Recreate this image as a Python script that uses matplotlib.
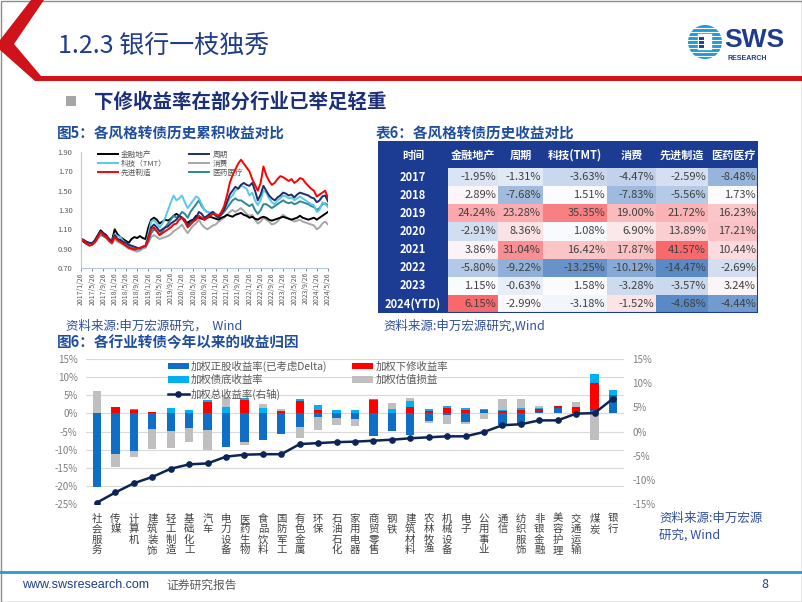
import numpy as np
import matplotlib.pyplot as plt
from matplotlib.patches import Rectangle, Polygon, Circle

plt.rcParams['font.family'] = ['Noto Sans CJK SC', 'DejaVu Sans']
plt.rcParams['axes.unicode_minus'] = False

# ---------------- data: 图5 cumulative returns (monthly, 2017/1 .. 2024/5)
date_labels = ['2017/1/26', '2017/5/26', '2017/9/26', '2018/1/26', '2018/5/26', '2018/9/26',
               '2019/1/26', '2019/5/26', '2019/9/26', '2020/1/26', '2020/5/26', '2020/9/26',
               '2021/1/26', '2021/5/26', '2021/9/26', '2022/1/26', '2022/5/26', '2022/9/26',
               '2023/1/26', '2023/5/26', '2023/9/26', '2024/1/26', '2024/5/26']

fin_re = [1.00, 0.97, 0.95, 0.96, 0.95, 0.99, 1.04, 1.09, 1.06, 1.04, 1.00, 0.98,
          1.10, 1.05, 1.02, 1.00, 0.98, 0.96, 1.00, 1.02, 1.01, 1.03, 1.01, 1.00,
          1.12, 1.20, 1.22, 1.20, 1.16, 1.18, 1.20, 1.19, 1.21, 1.24, 1.26, 1.24,
          1.22, 1.18, 1.17, 1.19, 1.20, 1.24, 1.22, 1.21, 1.20, 1.22, 1.23, 1.22,
          1.21, 1.20, 1.22, 1.23, 1.25, 1.24, 1.23, 1.25, 1.26, 1.27, 1.25, 1.24,
          1.22, 1.23, 1.21, 1.20, 1.22, 1.23, 1.22, 1.20, 1.19, 1.20, 1.21, 1.22,
          1.23, 1.22, 1.21, 1.20, 1.21, 1.22, 1.24, 1.22, 1.21, 1.20, 1.21, 1.22,
          1.20, 1.22, 1.24, 1.26, 1.28]
cycle = [1.00, 0.99, 0.97, 0.96, 0.96, 0.98, 1.03, 1.08, 1.06, 1.03, 1.00, 0.97,
         1.04, 1.00, 0.99, 0.97, 0.96, 0.94, 0.93, 0.92, 0.91, 0.90, 0.92, 0.93,
         1.02, 1.12, 1.15, 1.12, 1.08, 1.10, 1.12, 1.13, 1.16, 1.18, 1.20, 1.24,
         1.22, 1.20, 1.14, 1.18, 1.19, 1.22, 1.28, 1.26, 1.22, 1.24, 1.26, 1.28,
         1.24, 1.22, 1.26, 1.30, 1.38, 1.46, 1.50, 1.54, 1.52, 1.56, 1.58, 1.56,
         1.55, 1.58, 1.50, 1.40, 1.46, 1.55, 1.50, 1.45, 1.42, 1.40, 1.43, 1.45,
         1.48, 1.47, 1.45, 1.46, 1.43, 1.46, 1.48, 1.47, 1.46, 1.45, 1.43, 1.42,
         1.38, 1.40, 1.44, 1.45, 1.39]
tmt = [1.00, 0.99, 0.97, 0.96, 0.95, 0.97, 1.02, 1.06, 1.05, 1.03, 1.00, 0.97,
       1.05, 1.03, 1.02, 0.98, 0.96, 0.94, 0.93, 0.92, 0.90, 0.89, 0.91, 0.93,
       1.05, 1.18, 1.20, 1.16, 1.12, 1.16, 1.22, 1.30, 1.38, 1.45, 1.40, 1.42,
       1.45, 1.38, 1.32, 1.36, 1.40, 1.44, 1.42, 1.36, 1.30, 1.28, 1.26, 1.27,
       1.25, 1.24, 1.26, 1.30, 1.36, 1.42, 1.45, 1.50, 1.52, 1.55, 1.54, 1.52,
       1.45, 1.48, 1.40, 1.35, 1.40, 1.50, 1.48, 1.42, 1.38, 1.36, 1.40, 1.42,
       1.45, 1.44, 1.42, 1.43, 1.40, 1.42, 1.44, 1.42, 1.40, 1.38, 1.36, 1.35,
       1.28, 1.30, 1.38, 1.36, 1.33]
consume = [1.00, 0.98, 0.96, 0.95, 0.94, 0.96, 1.00, 1.04, 1.03, 1.01, 0.98, 0.95,
           1.00, 0.97, 0.96, 0.94, 0.92, 0.90, 0.89, 0.88, 0.87, 0.88, 0.90, 0.91,
           0.96, 1.02, 1.04, 1.02, 1.00, 1.01, 1.02, 1.03, 1.05, 1.08, 1.10, 1.12,
           1.15, 1.10, 1.06, 1.10, 1.14, 1.16, 1.20, 1.15, 1.12, 1.10, 1.12, 1.14,
           1.15, 1.18, 1.20, 1.22, 1.25, 1.28, 1.30, 1.28, 1.30, 1.32, 1.29, 1.26,
           1.24, 1.25, 1.20, 1.16, 1.18, 1.22, 1.20, 1.18, 1.15, 1.16, 1.18, 1.22,
           1.25, 1.23, 1.21, 1.20, 1.18, 1.19, 1.20, 1.18, 1.17, 1.16, 1.15, 1.14,
           1.10, 1.12, 1.16, 1.18, 1.15]
manuf = [1.00, 0.98, 0.95, 0.93, 0.94, 0.97, 1.02, 1.07, 1.04, 1.02, 0.98, 0.96,
         1.02, 0.99, 0.97, 0.95, 0.93, 0.91, 0.90, 0.89, 0.90, 0.91, 0.92, 0.93,
         1.00, 1.10, 1.12, 1.08, 1.04, 1.06, 1.08, 1.10, 1.12, 1.15, 1.16, 1.20,
         1.22, 1.18, 1.12, 1.15, 1.18, 1.20, 1.24, 1.22, 1.20, 1.22, 1.24, 1.26,
         1.25, 1.24, 1.28, 1.34, 1.45, 1.58, 1.66, 1.72, 1.78, 1.82, 1.78, 1.74,
         1.70, 1.62, 1.56, 1.50, 1.58, 1.75, 1.66, 1.60, 1.56, 1.58, 1.62, 1.65,
         1.64, 1.62, 1.60, 1.62, 1.58, 1.60, 1.63, 1.62, 1.58, 1.55, 1.52, 1.50,
         1.44, 1.46, 1.48, 1.50, 1.42]
medic = [1.00, 0.98, 0.96, 0.95, 0.95, 0.97, 1.01, 1.05, 1.03, 1.01, 0.99, 0.96,
         1.03, 1.00, 0.98, 0.96, 0.94, 0.92, 0.91, 0.90, 0.89, 0.90, 0.91, 0.92,
         0.98, 1.06, 1.10, 1.08, 1.05, 1.08, 1.12, 1.16, 1.20, 1.24, 1.22, 1.24,
         1.28, 1.26, 1.22, 1.28, 1.32, 1.36, 1.40, 1.34, 1.30, 1.28, 1.27, 1.28,
         1.26, 1.24, 1.25, 1.28, 1.32, 1.36, 1.40, 1.42, 1.40, 1.40, 1.38, 1.36,
         1.34, 1.36, 1.30, 1.26, 1.30, 1.36, 1.36, 1.34, 1.32, 1.34, 1.36, 1.38,
         1.40, 1.38, 1.37, 1.38, 1.36, 1.37, 1.39, 1.38, 1.37, 1.36, 1.34, 1.33,
         1.30, 1.32, 1.36, 1.37, 1.35]

# ---------------- data: 表6
table_head = ['时间', '金融地产', '周期', '科技(TMT)', '消费', '先进制造', '医药医疗']
years = ['2017', '2018', '2019', '2020', '2021', '2022', '2023', '2024(YTD)']
t_fin = [-1.95, 2.89, 24.24, -2.91, 3.86, -5.80, 1.15, 6.15]
t_cyc = [-1.31, -7.68, 23.28, 8.36, 31.04, -9.22, -0.63, -2.99]
t_tmt = [-3.63, 1.51, 35.35, 1.08, 16.42, -13.25, 1.58, -3.18]
t_con = [-4.47, -7.83, 19.00, 6.90, 17.87, -10.12, -3.28, -1.52]
t_man = [-2.59, -5.56, 21.72, 13.89, 41.57, -14.47, -3.57, -4.68]
t_med = [-8.48, 1.73, 16.23, 17.21, 10.44, -2.69, 3.24, -4.44]

# ---------------- data: 图6 (%)
industries = ['社会服务', '传媒', '计算机', '建筑装饰', '轻工制造', '基础化工', '汽车', '电力设备',
              '医药生物', '食品饮料', '国防军工', '有色金属', '环保', '石油石化', '家用电器',
              '商贸零售', '钢铁', '建筑材料', '农林牧渔', '机械设备', '电子', '公用事业', '通信',
              '纺织服饰', '非银金融', '美容护理', '交通运输', '煤炭', '银行']
stock_ret = [-20.2, -11.1, -10.3, -4.3, -4.8, -4.1, -4.5, -9.3, -7.8, -7.3, -5.7, -3.8, -0.9, -1.4,
             -1.5, -6.2, -4.9, -6.0, -2.0, -0.4, -2.4, 0.9, -3.1, -2.8, 0.5, 1.6, 0.0, 0.8, 5.0]
reset_ret = [0.0, 1.8, 1.0, 0.4, 0.2, 0.0, 3.2, 0.0, 3.6, 0.0, 0.6, 3.5, 1.0, 0.0,
             0.0, 3.7, 0.0, 1.7, 0.6, 1.6, 0.8, 0.0, 0.6, 1.0, 0.7, 0.3, 1.8, 7.7, 0.0]
bond_ret = [0.0, 0.0, 0.3, 0.0, 1.3, 1.0, 0.4, 1.8, 0.6, 1.5, 0.0, 0.6, 1.2, 1.0,
            1.0, 0.4, 1.3, 1.7, 0.6, 0.4, 0.8, 0.2, 0.4, 0.5, 0.2, 0.0, 0.0, 2.3, 1.4]
value_ret = [6.3, -3.6, -1.8, -5.6, -4.7, -3.8, -5.5, 2.7, -1.0, 1.1, 0.7, -3.0, -3.6, -1.9,
             -1.9, 0.0, 1.7, 0.9, -0.6, -2.4, -0.4, -1.5, 3.0, 2.6, 0.6, 0.0, 1.4, -7.3, 0.0]
total_ret = [-14.7, -12.6, -10.7, -9.4, -7.7, -6.8, -6.6, -5.2, -4.8, -4.7, -4.7, -2.6, -2.4, -2.2,
             -2.1, -1.9, -1.7, -1.4, -1.2, -1.0, -1.0, -0.1, 1.3, 1.5, 2.3, 2.3, 3.7, 3.8, 6.8]

NAVY = '#1F3C8C'
W, H = 802, 602
fig = plt.figure(figsize=(8.02, 6.02), dpi=100)


def box(l, t, r, b):
    return [l / W, 1 - b / H, (r - l) / W, (b - t) / H]


bg = fig.add_axes([0, 0, 1, 1])
bg.set_xlim(0, W)
bg.set_ylim(H, 0)
bg.axis('off')

# slide frame, header chevron, footer
bg.add_patch(Rectangle((0.5, 0.5), W - 1, H - 1, fill=False, ec='#8C8C8C', lw=1))
bg.add_patch(Polygon([(31, 0), (44, 0), (14, 44), (41, 76), (W, 76), (W, 81), (35, 81), (0, 50), (0, 40)],
                     closed=True, fc='#D0121B', ec='none'))
bg.text(58, 46, '1.2.3 银行一枝独秀', fontsize=18, color=NAVY, va='center', ha='left')
bg.plot([0, W], [572, 572], color='#2C9AC8', lw=2)
bg.text(22, 585, 'www.swsresearch.com', fontsize=9, color=NAVY, va='center', family=['Liberation Sans', 'DejaVu Sans'])
bg.text(166, 585, '证券研究报告', fontsize=8.5, color='#595959', va='center')
bg.text(765, 585, '8', fontsize=9, color=NAVY, va='center', ha='center')

# logo
bg.add_patch(Circle((705, 42), 17, fc='#1E9BD7', ec='none'))
for yy in range(28, 58, 4):
    bg.plot([687, 723], [yy, yy], color='white', lw=0.8)
bg.add_patch(Rectangle((697, 33), 16, 18, fc='white', ec='#1E9BD7', lw=1.2))
bg.add_patch(Rectangle((699, 36), 5, 12, fc=NAVY, ec='none'))
bg.text(724, 40, 'SWS', fontsize=19, fontweight='bold', color=NAVY, va='center',
        family=['Liberation Sans', 'DejaVu Sans'])
bg.text(728, 58, 'RESEARCH', fontsize=5, fontweight='bold', color=NAVY, va='center',
        family=['Liberation Sans', 'DejaVu Sans'])

# headline and captions
bg.add_patch(Rectangle((66, 96), 10, 10, fc='#A6A6A6', ec='none'))
bg.text(94, 102, '下修收益率在部分行业已举足轻重', fontsize=14, fontweight='bold', color='#1B2F7A', va='center')
bg.text(57, 133, '图5：各风格转债历史累积收益对比', fontsize=10.5, fontweight='bold', color='#1F4E9E', va='center')
bg.text(376, 133, '表6：各风格转债历史收益对比', fontsize=10.5, fontweight='bold', color='#1F4E9E', va='center')
bg.text(57, 342, '图6：各行业转债今年以来的收益归因', fontsize=10.5, fontweight='bold', color='#1F4E9E', va='center')
bg.text(66, 326, '资料来源:申万宏源研究，  Wind', fontsize=9, color='#2F4F9F', va='center')
bg.text(383, 326, '资料来源:申万宏源研究,Wind', fontsize=9, color='#2F4F9F', va='center')
bg.text(659, 518, '资料来源:申万宏源', fontsize=9, color='#2F4F9F', va='center')
bg.text(659, 535, '研究, Wind', fontsize=9, color='#2F4F9F', va='center')

# ---------------- 图5 line chart
ax1 = fig.add_axes(box(81, 152, 328, 268))
xm = np.arange(len(fin_re))
series = [('金融地产', fin_re, '#000000'), ('科技（TMT）', tmt, '#5BC8EA'), ('先进制造', manuf, '#FF0000'),
          ('周期', cycle, '#1F2D6B'), ('消费', consume, '#A6A6A6'), ('医药医疗', medic, '#2E8894')]
draw_order = [4, 0, 5, 1, 3, 2]
lines = {}
for i in draw_order:
    name, vals, col = series[i]
    lines[i], = ax1.plot(xm, vals, color=col, lw=1.4, label=name)
ax1.legend([lines[i] for i in range(6)], [s[0] for s in series], ncol=2, frameon=False, loc='upper left',
           bbox_to_anchor=(0.04, 1.07), fontsize=5.5, handlelength=2.6, handletextpad=0.4,
           columnspacing=3.0, labelspacing=0.15, labelcolor='#595959')
ax1.set_xlim(0, len(fin_re) - 1)
ax1.set_ylim(0.7, 1.9)
ax1.set_yticks(np.arange(0.7, 1.91, 0.2))
ax1.set_yticklabels([f'{v:.2f}' for v in np.arange(0.7, 1.91, 0.2)])
ax1.set_xticks(np.arange(0, len(fin_re), 4))
ax1.set_xticklabels(date_labels, rotation=90)
ax1.tick_params(axis='x', labelsize=5, colors='#595959', length=2, width=0.5, pad=1)
ax1.tick_params(axis='y', labelsize=5.5, colors='#595959', length=0, pad=6)
for s in ['top', 'right']:
    ax1.spines[s].set_visible(False)
for s in ['left', 'bottom']:
    ax1.spines[s].set_color('#B4C7E7')
    ax1.spines[s].set_linewidth(0.8)

# ---------------- 表6 heat table
tax = fig.add_axes(box(378, 141, 758, 313))
col_w = [70, 50, 45, 64, 49, 52, 50]
head_h = 27
row_h = (172 - head_h) / len(years)
tax.set_xlim(0, sum(col_w))
tax.set_ylim(172, 0)
tax.axis('off')
col_x = np.concatenate([[0], np.cumsum(col_w)])
vals = np.array([t_fin, t_cyc, t_tmt, t_con, t_man, t_med]).T

c_lo = np.array([0x5A, 0x8A, 0xC6]) / 255
c_mid = np.array([0xFC, 0xFC, 0xFF]) / 255
c_hi = np.array([0xF8, 0x69, 0x6B]) / 255


def scale_color(v, lo, mid, hi):
    if v <= mid:
        t = (mid - v) / (mid - lo)
        return c_mid + (c_lo - c_mid) * t
    t = (v - mid) / (hi - mid)
    return c_mid + (c_hi - c_mid) * t


main = vals[:7]
last = vals[7]
HEAD = '#1C3C94'
tax.add_patch(Rectangle((0, 0), sum(col_w), head_h, fc=HEAD, ec='none'))
for j, name in enumerate(table_head):
    tax.text((col_x[j] + col_x[j + 1]) / 2, head_h / 2 + 1, name, ha='center', va='center',
             color='white', fontsize=8, fontweight='bold')
for i, yr in enumerate(years):
    y0 = head_h + i * row_h
    tax.add_patch(Rectangle((0, y0), col_w[0], row_h, fc=HEAD, ec='none'))
    tax.text(col_w[0] / 2, y0 + row_h / 2, yr, ha='center', va='center', color='white',
             fontsize=8, fontweight='bold')
    for j in range(6):
        v = vals[i, j]
        if i < 7:
            col = scale_color(v, main.min(), np.median(main), main.max())
        else:
            col = scale_color(v, last.min(), np.median(last), last.max())
        tax.add_patch(Rectangle((col_x[j + 1], y0), col_w[j + 1], row_h, fc=col, ec='none'))
        tax.text(col_x[j + 2] - 2, y0 + row_h / 2, f'{v:.2f}%', ha='right', va='center',
                 color='#404040', fontsize=8)
tax.add_patch(Rectangle((0, 0), sum(col_w), 172, fill=False, ec=HEAD, lw=1.5))

# ---------------- 图6 stacked bars + total line
ax = fig.add_axes(box(86, 359, 624, 504))
xi = np.arange(len(industries))
pos_base = np.zeros(len(industries))
neg_base = np.zeros(len(industries))
bar_specs = [('加权正股收益率(已考虑Delta)', stock_ret, '#0F6FC6'),
             ('加权下修收益率', reset_ret, '#FF0000'),
             ('加权债底收益率', bond_ret, '#00B0F0'),
             ('加权估值损益', value_ret, '#BFBFBF')]
handles = {}
for name, v, col in bar_specs:
    v = np.array(v)
    bottom = np.where(v >= 0, pos_base, neg_base)
    handles[name] = ax.bar(xi, v, 0.45, bottom=bottom, color=col, label=name, zorder=2)
    pos_base = pos_base + np.clip(v, 0, None)
    neg_base = neg_base + np.clip(v, None, 0)
ax.set_xlim(-0.6, len(industries) - 0.4)
ax.set_ylim(-25, 15)
ax.set_yticks(np.arange(-25, 16, 5))
ax.set_yticklabels([f'{v}%' for v in range(-25, 16, 5)])
ax.grid(axis='y', color='#D9D9D9', lw=0.8)
ax.set_axisbelow(True)
ax.set_xticks(xi)
ax.set_xticklabels(['\n'.join(c) for c in industries], va='top', linespacing=1.05)
ax.tick_params(axis='x', length=0, labelsize=7.5, colors='#404040', pad=7)
ax.tick_params(axis='y', length=0, labelsize=7, colors='#7F7F7F', pad=6)
for s in ax.spines.values():
    s.set_visible(False)

ax2 = ax.twinx()
ln, = ax2.plot(xi, total_ret, color='#0D2457', lw=1.8, marker='o', ms=3.8, zorder=5,
               label='加权总收益率(右轴)')
ax2.set_ylim(-15, 15)
ax2.set_yticks(np.arange(-15, 16, 5))
ax2.set_yticklabels([f'{v}%' for v in range(-15, 16, 5)])
ax2.tick_params(axis='y', length=0, labelsize=7, colors='#7F7F7F', pad=6)
for s in ax2.spines.values():
    s.set_visible(False)

leg_h = [handles['加权正股收益率(已考虑Delta)'], handles['加权债底收益率'], ln,
         handles['加权下修收益率'], handles['加权估值损益']]
leg_l = ['加权正股收益率(已考虑Delta)', '加权债底收益率', '加权总收益率(右轴)', '加权下修收益率', '加权估值损益']
ax2.legend(leg_h, leg_l, ncol=2, frameon=False, loc='upper left', bbox_to_anchor=(0.135, 1.055),
           fontsize=7.5, handlelength=2.0, handleheight=0.6, handletextpad=0.2, columnspacing=2.4,
           labelspacing=0.3, labelcolor='#595959')

fig.savefig('out.png', dpi=100)
